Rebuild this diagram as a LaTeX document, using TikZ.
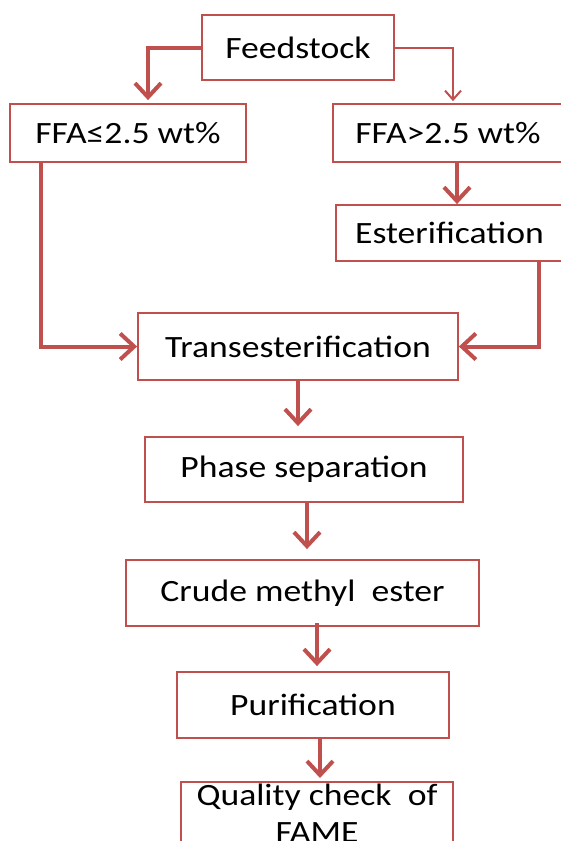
\documentclass[tikz,border=0pt]{standalone}
\usepackage{fontspec}
\setmainfont[FakeStretch=1.15]{Carlito}
\usetikzlibrary{arrows.meta}
\definecolor{boxred}{HTML}{C0504D}
\tikzset{
    my-box/.style={
        draw=boxred, line width=1.8pt, rectangle, inner sep=2pt,
        font=\fontsize{31}{37}\selectfont, text=black
    },
    my-arrow/.style={
        draw=boxred, line width=4pt,
        -{Straight Barb[length=14pt, width=26pt]}
    },
    my-thin-arrow/.style={
        draw=boxred, line width=2pt,
        -{Straight Barb[length=9pt, width=16pt]}
    },
}

\begin{document}
\begin{tikzpicture}[x=1pt, y=1pt]

        % PAGE
        \useasboundingbox (0,0) rectangle (561,-841);
        \clip (0,0) rectangle (561,-841);

        % TOP
        \node[my-box, minimum width=192, minimum height=65]  (FEED)  at (298, -47.5)  {Feedstock};
        \node[my-box, minimum width=236, minimum height=58]  (LOW)   at (128, -133)   {FFA≤2.5 wt\%};
        \node[my-box, minimum width=230, minimum height=58]  (HIGH)  at (448, -133)   {FFA>2.5 wt\%};
        \node[my-box, minimum width=227, minimum height=56]  (EST)   at (449.5, -233) {Esterification};

        % MAIN LINE
        \node[my-box, minimum width=320, minimum height=67]  (TRANS) at (298, -346.5) {Transesterification};
        \node[my-box, minimum width=318, minimum height=65]  (PHASE) at (304, -469.5) {Phase separation};
        \node[my-box, minimum width=353, minimum height=66]  (CRUDE) at (302.5, -593) {Crude methyl\ \ ester};
        \node[my-box, minimum width=272, minimum height=66]  (PURIF) at (313, -705)   {Purification};
        \node[my-box, minimum width=272, anchor=north, align=center]
                                                             (QUAL)  at (317, -781)   {Quality check\ \ of\\FAME};

        % FEEDSTOCK SPLIT
        \draw[my-arrow, shorten >=3pt]      (FEED.west) -| ([xshift=20]LOW.north);
        \draw[my-thin-arrow, shorten >=2pt] (FEED.east) -| ([xshift=5]HIGH.north);
        \draw[my-arrow]                     ([xshift=9]HIGH.south) -- ([xshift=7.5]EST.north);

        % INTO TRANSESTERIFICATION
        \draw[my-arrow] ([xshift=-87]LOW.south)  |- (TRANS.west);
        \draw[my-arrow] ([xshift=89.5]EST.south) |- (TRANS.east);

        % DOWNWARDS
        \draw[my-arrow, shorten >=10pt] (TRANS.south) -- (TRANS.south |- PHASE.north);
        \draw[my-arrow, shorten >=10pt] ([xshift=3]PHASE.south) -- ([xshift=3]PHASE.south |- CRUDE.north);
        \draw[my-arrow, shorten >=5pt]  ([xshift=14.5, yshift=4]CRUDE.south) -- ([xshift=14.5]CRUDE.south |- PURIF.north);
        \draw[my-arrow, shorten >=3pt]  ([xshift=7]PURIF.south) -- ([xshift=7]PURIF.south |- QUAL.north);

\end{tikzpicture}
\end{document}
